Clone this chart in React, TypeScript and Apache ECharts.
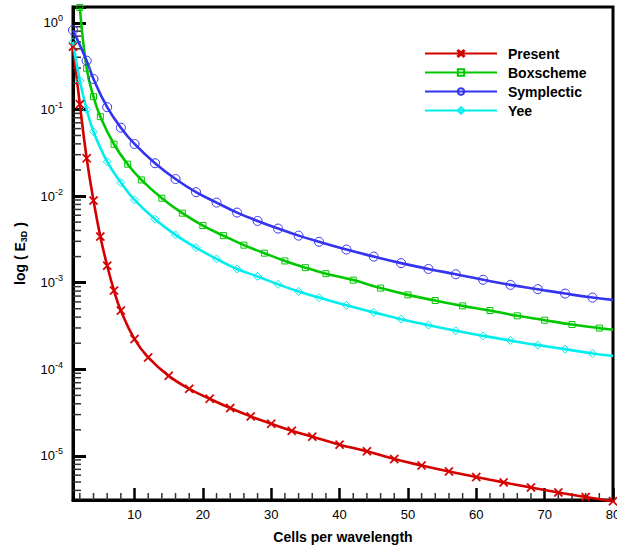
import React, { useEffect, useRef } from 'react';
import * as echarts from 'echarts';

// ---- data ----
const presentN = [1, 2, 3, 4, 5, 6, 7, 8, 10, 12, 15, 18, 21, 24, 27, 30, 33, 36, 40, 44, 48, 52, 56, 60, 64, 68, 72, 76, 80];
const presentE = [0.53, 0.115, 0.0273, 0.00885, 0.0034, 0.00157, 0.00081, 0.000476, 0.000223, 0.000137, 8.4e-5, 5.95e-5, 4.57e-5, 3.57e-5, 2.86e-5, 2.35e-5, 1.95e-5, 1.67e-5, 1.35e-5, 1.13e-5, 9.2e-6, 7.76e-6, 6.62e-6, 5.7e-6, 4.95e-6, 4.33e-6, 3.79e-6, 3.35e-6, 3.0e-6];

const boxN = [2, 3, 4, 5, 7, 9, 11, 14, 17, 20, 23, 26, 29, 32, 35, 38, 42, 46, 50, 54, 58, 62, 66, 70, 74, 78, 80];
const boxE = [1.5, 0.298, 0.14, 0.0824, 0.0396, 0.0233, 0.01534, 0.00944, 0.00634, 0.00456, 0.00349, 0.00271, 0.00219, 0.00178, 0.00149, 0.00127, 0.00107, 0.000865, 0.000723, 0.000622, 0.00054, 0.000477, 0.000414, 0.000369, 0.000329, 0.000299, 0.000286];

const sympN = [1, 3, 4, 6, 8, 10, 13, 16, 19, 22, 25, 28, 31, 34, 37, 41, 45, 49, 53, 57, 61, 65, 69, 73, 77, 80];
const sympE = [0.82, 0.365, 0.224, 0.106, 0.0615, 0.0399, 0.0239, 0.0157, 0.01107, 0.0084, 0.00644, 0.00516, 0.00421, 0.00349, 0.00296, 0.00241, 0.002, 0.00168, 0.00144, 0.00125, 0.00108, 0.000943, 0.000841, 0.000748, 0.000673, 0.000633];

const yeeN = [1, 2, 3, 4, 6, 8, 10, 13, 16, 19, 22, 25, 28, 31, 34, 37, 41, 45, 49, 53, 57, 61, 65, 69, 73, 77, 80];
const yeeE = [0.604, 0.214, 0.1, 0.0553, 0.0249, 0.0143, 0.00901, 0.0054, 0.00356, 0.00254, 0.00188, 0.00144, 0.00118, 0.000956, 0.000792, 0.000672, 0.000547, 0.000454, 0.000379, 0.000323, 0.000278, 0.000243, 0.000215, 0.00019, 0.000171, 0.000152, 0.000143];

// points drawn without a marker (line end only)
const boxNoMarker = [80];
const sympNoMarker = [80];
const yeeNoMarker = [80];
const presentNoMarker: number[] = [];

const xMin = 1;
const xMax = 80;
const yMin = 3.1e-6;
const yMax = 1.52;

const xMinorTicks = [2, 4, 6, 8, 12, 14, 16, 18, 22, 24, 26, 28, 32, 34, 36, 38, 42, 44, 46, 48, 52, 54, 56, 58, 62, 64, 66, 68, 72, 74, 76, 78];
const yMinorMantissas = [2, 3, 4, 5, 6, 7, 8, 9];
const yDecades = [-6, -5, -4, -3, -2, -1, 0];

const FONT = 'Liberation Sans, Arial, Helvetica, sans-serif';

const xMarkPath = 'path://M0,1.2 L1.2,0 L5,3.8 L8.8,0 L10,1.2 L6.2,5 L10,8.8 L8.8,10 L5,6.2 L1.2,10 L0,8.8 L3.8,5 Z';

function lineSeries(name: string, ns: number[], es: number[], noMarker: number[], color: string, symbol: string, symbolSize: number, filled: boolean) {
  return {
    type: 'line',
    name,
    smooth: 0.45,
    clip: false,
    symbol,
    symbolSize,
    showSymbol: true,
    showAllSymbol: true,
    data: ns.map((n, i) => (noMarker.indexOf(n) >= 0 ? { value: [n, es[i]], symbol: 'none' } : [n, es[i]])),
    lineStyle: { color, width: 2.6 },
    itemStyle: filled
      ? { color, borderColor: color, borderWidth: 0.3 }
      : { color: 'rgba(255,255,255,0)', borderColor: color, borderWidth: 1 },
    z: 3,
  };
}

export default function App() {
  const ref = useRef<HTMLDivElement>(null);
  useEffect(() => {
    const chart = echarts.init(ref.current!, null, { renderer: 'svg' });

    const yMinorTicks: number[] = [];
    yDecades.forEach((d) => {
      yMinorMantissas.forEach((m) => {
        const v = m * Math.pow(10, d);
        if (v > yMin && v < yMax) yMinorTicks.push(v);
      });
    });

    const option: any = {
      animation: false,
      backgroundColor: '#fff',
      grid: {
        left: 73, right: 4, top: 7, bottom: 50,
        show: true, borderColor: '#000', borderWidth: 3, backgroundColor: 'transparent',
        containLabel: false, outerBoundsMode: 'none',
      },
      legend: {
        data: ['Present', 'Boxscheme', 'Symplectic', 'Yee'],
        orient: 'vertical',
        left: 424,
        top: 46,
        padding: 0,
        itemWidth: 72,
        itemHeight: 8,
        itemGap: 4,
        textStyle: { fontFamily: FONT, fontWeight: 'bold', fontSize: 14, lineHeight: 15, color: '#000', padding: [0, 0, 0, 6] },
      },
      xAxis: {
        type: 'value',
        min: xMin,
        max: xMax,
        splitNumber: 8,
        axisLine: { show: true, onZero: false, lineStyle: { color: '#000', width: 3 } },
        axisTick: { show: true, inside: true, length: 12, lineStyle: { color: '#000', width: 2.5 } },
        minorTick: { show: false },
        splitLine: { show: false },
        axisLabel: {
          color: '#000',
          fontFamily: FONT,
          fontSize: 13,
          margin: 8,
          formatter: (v: number) => (v % 10 === 0 ? String(v) : ''),
        },
        name: 'Cells per wavelength',
        nameLocation: 'middle',
        nameGap: 30,
        nameTextStyle: { fontFamily: FONT, fontWeight: 'bold', fontSize: 14, color: '#000' },
      },
      yAxis: {
        type: 'log',
        logBase: 10,
        min: yMin,
        max: yMax,
        splitNumber: 6,
        axisLine: { show: true, onZero: false, lineStyle: { color: '#000', width: 3 } },
        axisTick: { show: true, inside: true, length: 13, lineStyle: { color: '#000', width: 3 } },
        minorTick: { show: false },
        splitLine: { show: false },
        axisLabel: {
          color: '#000',
          fontFamily: FONT,
          margin: 10,
          formatter: (v: number) => {
            const l = Math.log10(v);
            const e = Math.round(l);
            if (Math.abs(l - e) > 1e-6) return '';
            return '{b|10}{e|' + e + '}';
          },
          rich: {
            b: { fontFamily: FONT, fontSize: 13, color: '#000' },
            e: { fontFamily: FONT, fontSize: 9, color: '#000', padding: [0, 0, 9, 0] },
          },
        },
        name: '{a|log ( E}{s|3D}{a| )}',
        nameLocation: 'middle',
        nameGap: 45,
        nameRotate: 90,
        nameTextStyle: {
          rich: {
            a: { fontFamily: FONT, fontWeight: 'bold', fontSize: 14, color: '#000' },
            s: { fontFamily: FONT, fontWeight: 'bold', fontSize: 9, color: '#000', padding: [7, 0, 0, 0] },
          },
        },
      },
      series: [
        lineSeries('Present', presentN, presentE, presentNoMarker, '#d40000', xMarkPath, 9, true),
        lineSeries('Boxscheme', boxN, boxE, boxNoMarker, '#00c800', 'rect', 6, false),
        lineSeries('Symplectic', sympN, sympE, sympNoMarker, '#3333f0', 'circle', 9, false),
        lineSeries('Yee', yeeN, yeeE, yeeNoMarker, '#00eeee', 'diamond', 8, false),
        {
          type: 'custom',
          name: 'yMinor',
          silent: true,
          clip: false,
          z: 1,
          data: yMinorTicks.map((v) => [xMin, v]),
          encode: { x: 0, y: 1 },
          renderItem: (params: any, api: any) => {
            const p = api.coord([api.value(0), api.value(1)]);
            return { type: 'line', shape: { x1: p[0], y1: p[1], x2: p[0] + 8, y2: p[1] }, style: { stroke: '#333', lineWidth: 1.5 } };
          },
        },
        {
          type: 'custom',
          name: 'xMinor',
          silent: true,
          clip: false,
          z: 1,
          data: xMinorTicks.map((n) => [n, yMin]),
          encode: { x: 0, y: 1 },
          renderItem: (params: any, api: any) => {
            const p = api.coord([api.value(0), api.value(1)]);
            return { type: 'line', shape: { x1: p[0], y1: p[1], x2: p[0], y2: p[1] - 7 }, style: { stroke: '#333', lineWidth: 1.5 } };
          },
        },
      ],
    };
    chart.setOption(option);
    return () => chart.dispose();
  }, []);
  return <div ref={ref} style={{ position: 'absolute', left: 0, top: 0, width: 617, height: 550, background: '#fff' }} />;
}
